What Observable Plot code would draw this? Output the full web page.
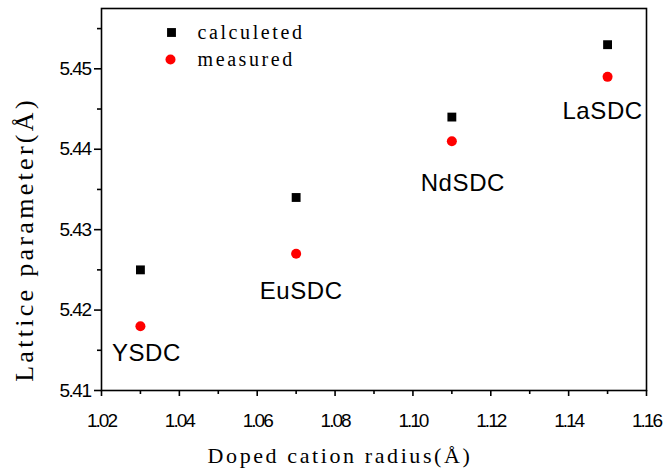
<!DOCTYPE html>
<html>
<head>
<meta charset="utf-8">
<script src="https://cdn.jsdelivr.net/npm/d3@7"></script>
<script src="https://cdn.jsdelivr.net/npm/@observablehq/plot@0.6"></script>
<style>
  html, body { margin: 0; padding: 0; background: #fff; }
  #chart svg { display: block; }
</style>
</head>
<body>
<div id="chart"></div>
<script>
const radius = [1.03, 1.07, 1.11, 1.15];
const calculated = [5.425, 5.434, 5.444, 5.453];
const measured = [5.418, 5.427, 5.441, 5.449];
const names = ["YSDC", "EuSDC", "NdSDC", "LaSDC"];
const xTicks = [1.02, 1.04, 1.06, 1.08, 1.10, 1.12, 1.14, 1.16];
const xMinor = [1.03, 1.05, 1.07, 1.09, 1.11, 1.13, 1.15];
const yTicks = [5.41, 5.42, 5.43, 5.44, 5.45];
const yMinor = [5.415, 5.425, 5.435, 5.445, 5.455];
const seriesNames = ["calculeted", "measured"];
const xTitle = "Doped cation radius(Å)";
const yTitle = "Lattice parameter(Å)";

const rows = radius.map((r, i) => ({r, calc: calculated[i], meas: measured[i], name: names[i]}));

// label offsets (pixels) relative to measured point
const labelOffsets = [[6, 27], [5, 38], [11, 42], [-5, 34]];

const serif = "Liberation Serif, Times New Roman, serif";
const sans = "Liberation Sans, Arial, sans-serif";
const fmt = d3.format(".2f");

const plot = Plot.plot({
  width: 665,
  height: 468,
  marginLeft: 101,
  marginRight: 19,
  marginTop: 8,
  marginBottom: 78,
  style: {background: "#fff", color: "#000"},
  x: {domain: [1.02, 1.16]},
  y: {domain: [5.41, 5.4575]},
  marks: [
    Plot.axisX({ticks: xTicks, tickSize: 6, tickPadding: 17, tickFormat: fmt, label: null, fontSize: 19, strokeWidth: 1.6}),
    Plot.axisX({ticks: xMinor, tickSize: 4, tickFormat: () => "", label: null, strokeWidth: 1.6}),
    Plot.axisY({ticks: yTicks, tickSize: 7, tickPadding: 4, tickFormat: fmt, label: null, fontSize: 19, strokeWidth: 1.6}),
    Plot.axisY({ticks: yMinor, tickSize: 4, tickFormat: () => "", label: null, strokeWidth: 1.6}),
    Plot.frame({stroke: "#000", strokeWidth: 1.6}),
    Plot.dot(rows, {x: "r", y: "calc", symbol: "square", r: 5, fill: "#000", stroke: "none"}),
    Plot.dot(rows, {x: "r", y: "meas", symbol: "circle", r: 5, fill: "#ff0000", stroke: "none"}),
    ...rows.map((d, i) => Plot.text([d], {
      x: "r", y: "meas", text: "name",
      dx: labelOffsets[i][0], dy: labelOffsets[i][1],
      fontFamily: sans, fontSize: 24, fill: "#000"
    })),
    // legend
    Plot.dot([0], {frameAnchor: "top-left", dx: 70, dy: 24, symbol: "square", r: 5, fill: "#000", stroke: "none"}),
    Plot.dot([0], {frameAnchor: "top-left", dx: 69, dy: 51, symbol: "circle", r: 5, fill: "#ff0000", stroke: "none"}),
    Plot.text([seriesNames[0]], {frameAnchor: "top-left", dx: 96, dy: 24, text: d => d, textAnchor: "start", lineAnchor: "middle", fontFamily: serif, fontSize: 20, fill: "#000"}),
    Plot.text([seriesNames[1]], {frameAnchor: "top-left", dx: 96, dy: 51, text: d => d, textAnchor: "start", lineAnchor: "middle", fontFamily: serif, fontSize: 20, fill: "#000"}),
    // axis titles
    Plot.text([xTitle], {frameAnchor: "bottom", dx: -34, dy: 65, text: d => d, textAnchor: "middle", lineAnchor: "middle", fontFamily: serif, fontSize: 22, fill: "#000"}),
    Plot.text([yTitle], {frameAnchor: "left", dx: -77, dy: 40, rotate: -90, text: d => d, textAnchor: "middle", lineAnchor: "middle", fontFamily: serif, fontSize: 26, fill: "#000"})
  ]
});

// typographic finishing: letter spacing and tick-label fonts
const tickRe = /^\s*\d\.\d\d\s*$/;
d3.select(plot).selectAll("text").each(function() {
  const t = this.textContent;
  const s = this.style;
  if (tickRe.test(t)) {
    const isY = t.trim().startsWith("5");
    s.fontFamily = sans; s.fontSize = "19px"; s.letterSpacing = isY ? "-1.5px" : "-2px";
  } else if (names.includes(t)) {
    s.letterSpacing = "0.6px";
  } else if (seriesNames.includes(t)) {
    s.letterSpacing = "2.6px";
  } else if (t === xTitle) {
    s.letterSpacing = "2.6px";
  } else if (t === yTitle) {
    s.letterSpacing = "3.3px";
  }
});
document.getElementById("chart").appendChild(plot);
</script>
</body>
</html>
